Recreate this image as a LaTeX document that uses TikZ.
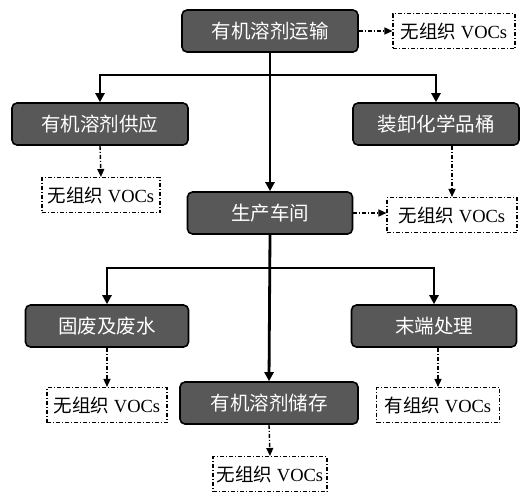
\documentclass[tikz,border=0pt]{standalone}
\usepackage{fontspec}
\setmainfont{Liberation Serif}
\newfontfamily\cjk{Noto Sans CJK SC}
\usetikzlibrary{arrows.meta}
\definecolor{boxgray}{HTML}{585858}
\begin{document}
\begin{tikzpicture}[x=1pt,y=-1pt,
  proc/.style={draw=black, line width=1.6pt, fill=boxgray, rounded corners=5pt,
    text=white, font=\cjk\fontsize{19.5}{19.5}\selectfont, inner sep=0pt, minimum height=42pt},
  voc/.style={draw=black, line width=1.1pt, dash pattern=on 4pt off 2pt on 1pt off 2pt,
    fill=white, font=\fontsize{18.5}{18.5}\selectfont, inner sep=0pt, minimum height=35pt},
  flow/.style={line width=2.8pt, -{Triangle[length=9pt,width=9pt]}},
  bar/.style={line width=2.8pt},
  emit/.style={line width=1.4pt, dash pattern=on 4pt off 2pt on 1pt off 2pt,
    -{Triangle[length=8pt,width=7pt]}}]
\useasboundingbox (0,0) rectangle (520,491);
% process boxes
\node[proc, minimum width=176pt] (top) at (270,31) {有机溶剂运输};
\node[proc, minimum width=176pt] (supply) at (100,124) {有机溶剂供应};
\node[proc, minimum width=166pt] (load) at (436,124) {装卸化学品桶};
\node[proc, minimum width=165pt] (work) at (270,213) {生产车间};
\node[proc, minimum width=163pt] (waste) at (107,326) {固废及废水};
\node[proc, minimum width=165pt] (endt) at (434,326) {末端处理};
\node[proc, minimum width=178pt] (store) at (269,403) {有机溶剂储存};
% VOC boxes
\node[voc, minimum width=122pt] (v1) at (454,31) {{\cjk 无组织} VOCs};
\node[voc, minimum width=118pt] (v2) at (101,195) {{\cjk 无组织} VOCs};
\node[voc, minimum width=130pt] (v3) at (452,215) {{\cjk 无组织} VOCs};
\node[voc, minimum width=120pt] (v4) at (107,405) {{\cjk 无组织} VOCs};
\node[voc, minimum width=123pt] (v5) at (438,405) {{\cjk 有组织} VOCs};
\node[voc, minimum width=114pt] (v6) at (270,474) {{\cjk 无组织} VOCs};
% branch points
\coordinate (b1) at (270,75);
\coordinate (b2) at (270,268);
% solid flows
\draw[flow] (top.south) -- (work.north);
\draw[bar] ([xshift=-1.4pt]b1 -| supply) -- ([xshift=1.4pt]b1 -| load);
\draw[flow] ([yshift=-1.4pt]b1 -| supply) -- (supply.north);
\draw[flow] ([yshift=-1.4pt]b1 -| load) -- (load.north);
\draw[flow] (work.south) -- (store.north);
\draw[bar] ([xshift=-1.4pt]b2 -| waste) -- ([xshift=1.4pt]b2 -| endt);
\draw[flow] ([yshift=-1.4pt]b2 -| waste) -- (waste.north);
\draw[flow] ([yshift=-1.4pt]b2 -| endt) -- (endt.north);
% emissions
\draw[emit] (top.east) -- (v1.west);
\draw[emit] (supply.south) -- (v2.north);
\draw[emit] (v3.north |- load.south) -- (v3.north);
\draw[emit] (work.east) -- (v3.west |- work.east);
\draw[emit] (waste.south) -- (v4.north);
\draw[emit] (v5.north |- endt.south) -- (v5.north);
\draw[emit] (store.south) -- (v6.north);
\end{tikzpicture}
\end{document}
